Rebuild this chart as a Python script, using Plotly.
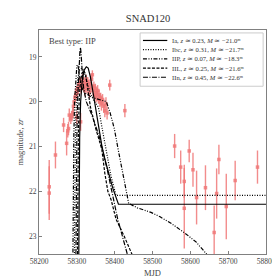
import plotly.graph_objects as go

# ---- observed photometry ----
obs_mjd = [58227, 58227, 58243.5, 58265, 58273, 58276, 58278, 58280, 58284, 58287, 58289,
           58291, 58293, 58295, 58297, 58299, 58300, 58301, 58303, 58305, 58307, 58309, 58310,
           58311, 58313, 58315, 58317, 58319, 58321, 58323, 58325, 58327, 58329, 58331,
           58333, 58335, 58337, 58339, 58341, 58343, 58345, 58347, 58349, 58351, 58353,
           58355, 58357, 58359, 58361, 58363, 58365, 58368, 58371, 58374, 58377, 58380,
           58387, 58427,
           58558.5, 58574.5, 58584, 58584, 58597, 58607, 58616.5, 58640, 58663, 58669.5,
           58675.5, 58695, 58718.5, 58777.5]
obs_mag = [21.9, 22.04, 21.19, 20.52, 20.93, 20.65, 20.6, 20.3, 20.38, 20.32, 20.25,
           20.1, 20.0, 19.9, 19.85, 19.75, 20.35, 19.8, 19.7, 19.6, 19.65, 19.55, 20.45,
           19.7, 19.6, 19.5, 19.65, 19.55, 19.75, 19.6, 19.5, 19.7, 19.55, 19.65,
           19.8, 19.6, 19.7, 19.5, 19.4, 19.75, 19.65, 19.85, 19.7, 19.9, 19.8,
           19.75, 19.95, 19.85, 20.0, 19.9, 20.05, 19.95, 20.1, 20.2, 20.05, 20.25,
           19.63, 20.2,
           20.99, 21.46, 21.78, 22.38, 21.1, 21.52, 22.14, 21.92, 22.92, 22.05,
           21.29, 22.34, 21.76, 21.46]
obs_err = [0.6, 0.6, 0.3, 0.16, 0.27, 0.15, 0.15, 0.15, 0.12, 0.12, 0.12,
           0.12, 0.1, 0.1, 0.12, 0.1, 0.15, 0.12, 0.1, 0.12, 0.1, 0.1, 0.2,
           0.12, 0.1, 0.12, 0.1, 0.1, 0.12, 0.1, 0.1, 0.12, 0.1, 0.1,
           0.12, 0.1, 0.1, 0.12, 0.1, 0.12, 0.1, 0.12, 0.1, 0.12, 0.1,
           0.12, 0.1, 0.12, 0.12, 0.1, 0.15, 0.12, 0.15, 0.15, 0.15, 0.15,
           0.12, 0.15,
           0.27, 0.37, 0.37, 0.9, 0.25, 0.38, 0.6, 0.5, 0.6, 0.56,
           0.33, 0.73, 0.44, 0.37]

# ---- model light curves ----
ia_mjd = [58305, 58306, 58307.5, 58310, 58314, 58319, 58325, 58330, 58336, 58342, 58349,
          58358, 58366, 58374, 58385, 58395, 58410, 58800]
ia_mag = [23.6, 22.0, 20.8, 20.0, 19.55, 19.3, 19.22, 19.25, 19.45, 19.75, 20.12,
          20.62, 20.98, 21.28, 21.65, 21.93, 22.29, 22.29]

ibc_mjd = [58293.5, 58294.5, 58296, 58298.5, 58302, 58307, 58313, 58318, 58325, 58335,
           58345, 58357, 58367, 58378, 58390, 58403.5, 58800]
ibc_mag = [23.6, 22.0, 20.8, 20.0, 19.5, 19.3, 19.25, 19.3, 19.5, 19.8,
           19.98, 20.12, 20.6, 21.15, 21.65, 22.09, 22.09]

iip_mjd = [58289.5, 58290.5, 58292, 58294, 58297, 58300, 58303, 58306, 58311, 58320,
           58335, 58350, 58365, 58378, 58388, 58399, 58410, 58420, 58430, 58437,
           58460, 58496, 58520, 58550, 58585, 58615, 58648]
iip_mag = [23.6, 22.0, 20.8, 20.0, 19.45, 19.2, 19.18, 19.4, 19.65, 19.8,
           19.88, 19.93, 19.96, 20.0, 20.25, 20.6, 21.1, 21.55, 21.98, 22.27,
           22.37, 22.47, 22.57, 22.72, 22.93, 23.13, 23.45]

iil_mjd = [58301.5, 58302.5, 58304, 58306, 58309, 58313, 58318, 58323, 58330, 58336,
           58350, 58366, 58374, 58382, 58391, 58403.5, 58425, 58448]
iil_mag = [23.6, 22.0, 20.8, 20.0, 19.6, 19.38, 19.3, 19.38, 19.75, 20.12,
           20.6, 21.06, 21.6, 22.0, 22.2, 22.62, 23.0, 23.45]

iin_mjd = [58297.5, 58298.5, 58300, 58302, 58305, 58308, 58309.5, 58311, 58314, 58318,
           58325, 58340, 58360, 58380, 58395, 58408, 58435]
iin_mag = [23.6, 22.0, 20.8, 20.0, 19.3, 18.9, 18.79, 18.9, 19.3, 19.7,
           20.0, 20.3, 20.8, 21.5, 22.1, 22.62, 23.45]

x_ticks = [58200, 58300, 58400, 58500, 58600, 58700, 58800]
y_ticks = [19, 20, 21, 22, 23]

FONT = "Liberation Serif"
RED = "rgba(240,120,120,0.85)"

# plot area in pixels (for placing the hand-drawn legend in paper coords)
L, R, T, B = 28, 266, 22, 251


def px(xp):
    return (xp - L) / (R - L)


def py(yp):
    return (B - yp) / (B - T)


fig = go.Figure()
fig.add_trace(go.Scatter(
    x=obs_mjd, y=obs_mag, mode="markers", showlegend=False, name="data",
    marker=dict(symbol="square", size=3.5, color=RED),
    error_y=dict(type="data", array=obs_err, color=RED, thickness=1.4, width=0),
))

models = [
    ("Ia, <i>z</i> ≃ 0.23, <i>M</i> ≃ −21.0ᵐ", ia_mjd, ia_mag, "solid"),
    ("Ibc, <i>z</i> ≃ 0.31, <i>M</i> ≃ −21.7ᵐ", ibc_mjd, ibc_mag, "1px,1.5px"),
    ("IIP, <i>z</i> ≃ 0.07, <i>M</i> ≃ −18.3ᵐ", iip_mjd, iip_mag,
     "4px,1.5px,1px,1.5px,1px,1.5px"),
    ("IIL, <i>z</i> ≃ 0.25, <i>M</i> ≃ −21.6ᵐ", iil_mjd, iil_mag, "3px,1.5px"),
    ("IIn, <i>z</i> ≃ 0.45, <i>M</i> ≃ −22.6ᵐ", iin_mjd, iin_mag,
     "5px,1.5px,1px,1.5px"),
]

shapes = [dict(type="rect", xref="paper", yref="paper",
               x0=px(134), x1=px(263), y0=py(25), y1=py(79.5),
               line=dict(color="#cccccc", width=1), fillcolor="rgba(255,255,255,0.9)",
               layer="above")]
annotations = [dict(text="Best type: IIP", xref="paper", yref="paper", x=px(36), y=py(33.5),
                    xanchor="left", yanchor="middle", showarrow=False,
                    font=dict(family=FONT, size=8.5, color="#444"))]

row_y = [32.7, 42.1, 51.5, 60.9, 70.3]
for (name, xs, ys, dash), ry in zip(models, row_y):
    fig.add_trace(go.Scatter(x=xs, y=ys, mode="lines", name=name, showlegend=False,
                             line=dict(color="black", width=1.2, dash=dash)))
    shapes.append(dict(type="line", xref="paper", yref="paper",
                       x0=px(137), x1=px(162.5), y0=py(ry), y1=py(ry),
                       line=dict(color="black", width=1.2, dash=dash), layer="above"))
    annotations.append(dict(text=name, xref="paper", yref="paper", x=px(165), y=py(ry),
                            xanchor="left", yanchor="middle", showarrow=False,
                            font=dict(family=FONT, size=6.6, color="#333")))

axis_common = dict(showline=True, mirror=True, linecolor="#808080", linewidth=1.2,
                   ticks="inside", ticklen=3, tickcolor="#808080", showgrid=False,
                   zeroline=False, tickfont=dict(family=FONT, size=7.5, color="#444"))

fig.update_layout(
    width=280, height=280,
    margin=dict(l=L, r=280 - R, t=T, b=280 - B),
    paper_bgcolor="white", plot_bgcolor="white",
    showlegend=False,
    title=dict(text="SNAD120", x=0.5, xanchor="center", y=0.964, yanchor="middle",
               font=dict(family=FONT, size=10.5, color="#333", weight="normal")),
    xaxis=dict(range=[58200, 58800], tickvals=x_ticks, ticktext=[str(t) for t in x_ticks],
               title=dict(text="MJD", font=dict(family=FONT, size=8.5, color="#444"), standoff=4),
               **axis_common),
    yaxis=dict(range=[23.4, 18.4], tickvals=y_ticks, ticktext=[str(t) for t in y_ticks],
               title=dict(text="magnitude, <i>zr</i>", font=dict(family=FONT, size=8.5, color="#444"),
                          standoff=3),
               **axis_common),
    shapes=shapes,
    annotations=annotations,
)

fig.write_html("out.html")
